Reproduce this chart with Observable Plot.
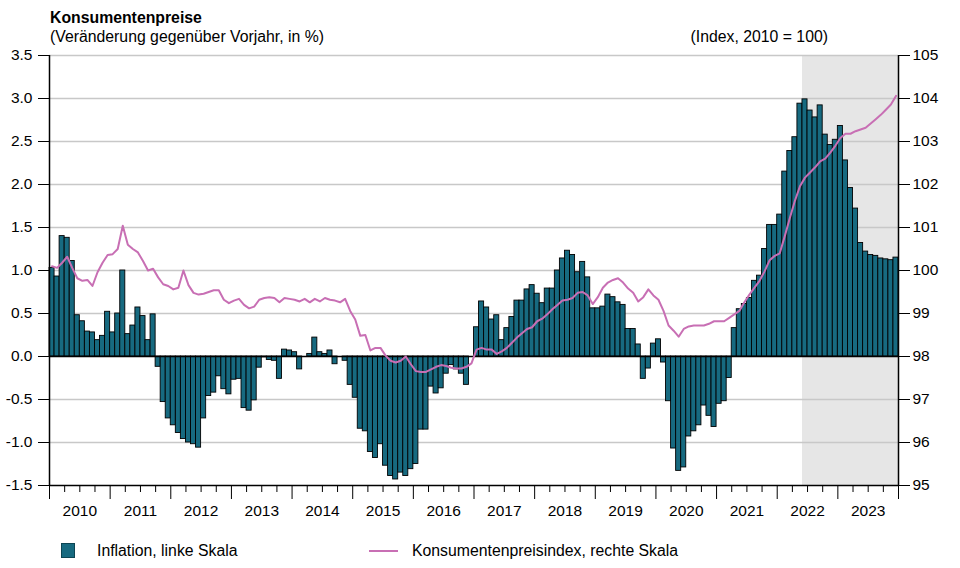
<!DOCTYPE html>
<html>
<head>
<meta charset="utf-8">
<script src="https://cdn.jsdelivr.net/npm/d3@7"></script>
<script src="https://cdn.jsdelivr.net/npm/@observablehq/plot@0.6"></script>
<style>
  body { margin: 0; background: #fff; }
  #wrap { position: relative; width: 960px; height: 568px; font-family: "Liberation Sans", Arial, Helvetica, sans-serif; color: #000; overflow: hidden; }
  .t { position: absolute; font-size: 15.8px; line-height: 18px; white-space: nowrap; }
  #chart { position: absolute; left: 0; top: 46px; }
  .swatch { position: absolute; left: 61px; top: 543px; width: 14px; height: 15px; background: #176a80; box-sizing: border-box; border: 1px solid #0d4553; }
  .lineswatch { position: absolute; left: 369px; top: 550px; width: 29px; height: 2px; background: #c86fb4; }
</style>
</head>
<body>
<div id="wrap">
  <div class="t" style="left:50px;top:9px;font-weight:bold">Konsumentenpreise</div>
  <div class="t" style="left:50px;top:28px">(Veränderung gegenüber Vorjahr, in %)</div>
  <div class="t" style="right:132px;top:28px">(Index, 2010 = 100)</div>
  <div id="chart"></div>
  <div class="swatch"></div>
  <div class="t" style="left:97px;top:542px">Inflation, linke Skala</div>
  <div class="lineswatch"></div>
  <div class="t" style="left:412px;top:542px">Konsumentenpreisindex, rechte Skala</div>
</div>
<script>
// Year labels (monthly data Jan 2010 – Dec 2023)
const yearLabels = ["2010","2011","2012","2013","2014","2015","2016","2017","2018","2019","2020","2021","2022","2023"];

// Inflation, % change vs previous year (left scale), one value per month
const inflation = [
  1.03,0.93,1.40,1.38,1.11,0.48,0.41,0.29,0.28,0.19,0.24,0.52,
  0.28,0.50,1.00,0.26,0.36,0.57,0.47,0.19,0.49,-0.12,-0.53,-0.72,
  -0.80,-0.89,-0.96,-1.00,-1.02,-1.06,-0.72,-0.46,-0.42,-0.23,-0.38,-0.44,
  -0.27,-0.26,-0.60,-0.63,-0.51,-0.13,-0.01,-0.04,-0.05,-0.26,0.08,0.07,
  0.05,-0.15,0.00,0.03,0.22,0.05,0.03,0.07,-0.09,0.00,-0.05,-0.33,
  -0.48,-0.84,-0.87,-1.11,-1.18,-1.02,-1.27,-1.39,-1.43,-1.35,-1.39,-1.31,
  -1.25,-0.85,-0.85,-0.35,-0.43,-0.37,-0.20,-0.10,-0.15,-0.20,-0.33,0.00,
  0.34,0.64,0.57,0.43,0.48,0.19,0.33,0.46,0.65,0.65,0.78,0.83,
  0.73,0.62,0.79,0.79,1.00,1.14,1.23,1.18,0.98,1.10,0.92,0.56,
  0.56,0.58,0.72,0.69,0.63,0.60,0.32,0.32,0.14,-0.26,-0.14,0.15,
  0.20,-0.07,-0.52,-1.07,-1.33,-1.29,-0.93,-0.87,-0.80,-0.57,-0.69,-0.82,
  -0.55,-0.52,-0.25,0.33,0.55,0.61,0.68,0.88,0.94,1.25,1.53,1.53,
  1.65,2.15,2.39,2.55,2.94,2.99,2.86,2.78,2.92,2.58,2.46,2.52,
  2.68,2.28,1.96,1.72,1.32,1.22,1.18,1.17,1.14,1.13,1.12,1.15
];

// Consumer price index, 2010 = 100 (right scale), one value per month
const cpiIndex = [
  100.10,100.06,100.18,100.32,100.06,99.82,99.76,99.78,99.64,99.96,100.18,100.36,
  100.38,100.50,101.04,100.60,100.50,100.42,100.22,100.00,100.04,99.84,99.68,99.64,
  99.56,99.60,100.00,99.66,99.48,99.44,99.46,99.50,99.54,99.54,99.32,99.24,
  99.30,99.34,99.20,99.12,99.16,99.32,99.36,99.38,99.36,99.26,99.36,99.34,
  99.32,99.28,99.34,99.26,99.34,99.28,99.36,99.32,99.30,99.26,99.34,99.06,
  98.86,98.48,98.50,98.14,98.20,98.20,98.02,97.90,97.86,97.90,98.00,97.82,
  97.66,97.64,97.64,97.70,97.76,97.80,97.78,97.74,97.72,97.72,97.76,97.84,
  98.16,98.20,98.16,98.16,98.06,98.12,98.20,98.32,98.44,98.54,98.64,98.68,
  98.82,98.88,98.98,99.10,99.20,99.30,99.32,99.36,99.48,99.50,99.42,99.22,
  99.38,99.60,99.72,99.78,99.82,99.72,99.58,99.48,99.28,99.38,99.56,99.42,
  99.32,99.06,98.72,98.60,98.46,98.64,98.70,98.72,98.72,98.72,98.76,98.82,
  98.82,98.82,98.90,98.98,99.06,99.26,99.44,99.60,99.76,99.98,100.24,100.34,
  100.40,100.80,101.22,101.62,101.96,102.16,102.28,102.40,102.54,102.60,102.74,102.90,
  103.08,103.18,103.18,103.24,103.28,103.32,103.42,103.52,103.62,103.74,103.86,104.06
];

// Forecast period (shaded): from June 2022
const forecastStart = { year: 2022, month: 6 };

// Axis tick values
const leftTicks = [-1.5, -1.0, -0.5, 0, 0.5, 1.0, 1.5, 2.0, 2.5, 3.0, 3.5];
const rightTicks = [95, 96, 97, 98, 99, 100, 101, 102, 103, 104, 105];

// ---- derived tables ----
const firstYear = +yearLabels[0];
const nMonths = yearLabels.length * 12;
const bars = inflation.map((v, i) => ({ i, v }));
const cpi = cpiIndex.map((idx, i) => ({ i, idx }));
// right scale mapped onto left scale: 98 <-> 0, 2 index points per 1 %
const rightToLeft = r => (r - 98) / 2;
const leftToRight = l => 98 + 2 * l;
const fStart = (forecastStart.year - firstYear) * 12 + (forecastStart.month - 1);
const yearStarts = d3.range(0, nMonths + 1, 12);
const quarterTicks = d3.range(0, nMonths + 1, 3).filter(d => d % 12 !== 0);
const yearMids = yearLabels.map((y, k) => k * 12 + 6);

const chart = Plot.plot({
  width: 960,
  height: 486,
  marginTop: 9,
  marginBottom: 47,
  marginLeft: 49,
  marginRight: 62,
  style: { fontFamily: '"Liberation Sans", Arial, Helvetica, sans-serif', fontSize: "15.5px", background: "transparent", color: "#000" },
  x: { domain: [0, nMonths] },
  y: { domain: [leftTicks[0], leftTicks[leftTicks.length - 1]] },
  marks: [
    Plot.rect([{ x1: fStart, x2: nMonths }], { x1: "x1", x2: "x2", y1: leftTicks[0], y2: leftTicks[leftTicks.length - 1], fill: "#e6e6e6" }),
    Plot.ruleY(leftTicks.filter(t => t !== leftTicks[0] && t !== 0), { stroke: "#c8c8c8", strokeWidth: 1.5 }),
    Plot.rect(bars, { x1: "i", x2: d => d.i + 1, y1: 0, y2: "v", fill: "#176a80", stroke: "#000", strokeWidth: 0.9 }),
    Plot.ruleY([0], { stroke: "#000", strokeWidth: 1.5 }),
    Plot.line(cpi, { x: d => d.i + 0.5, y: d => rightToLeft(d.idx), stroke: "#c86fb4", strokeWidth: 2 }),
    Plot.ruleX([0, nMonths], { stroke: "#000", strokeWidth: 1.5 }),
    Plot.ruleY([leftTicks[0]], { stroke: "#000", strokeWidth: 1.5 }),
    Plot.axisY({ anchor: "left", ticks: leftTicks, tickFormat: v => v.toFixed(1), tickSize: 11, tickPadding: 6, label: null }),
    Plot.axisY({ anchor: "right", ticks: rightTicks.map(rightToLeft), tickFormat: v => String(Math.round(leftToRight(v))), tickSize: 11, tickPadding: 3, label: null }),
    Plot.axisX({ ticks: yearStarts, tickSize: 14, tickFormat: () => "", label: null }),
    Plot.axisX({ ticks: quarterTicks, tickSize: 7, tickFormat: () => "", label: null }),
    Plot.axisX({ ticks: yearMids, tickSize: 0, tickPadding: 19, tickFormat: d => yearLabels[(d - 6) / 12], label: null })
  ]
});
document.getElementById("chart").appendChild(chart);
</script>
</body>
</html>
